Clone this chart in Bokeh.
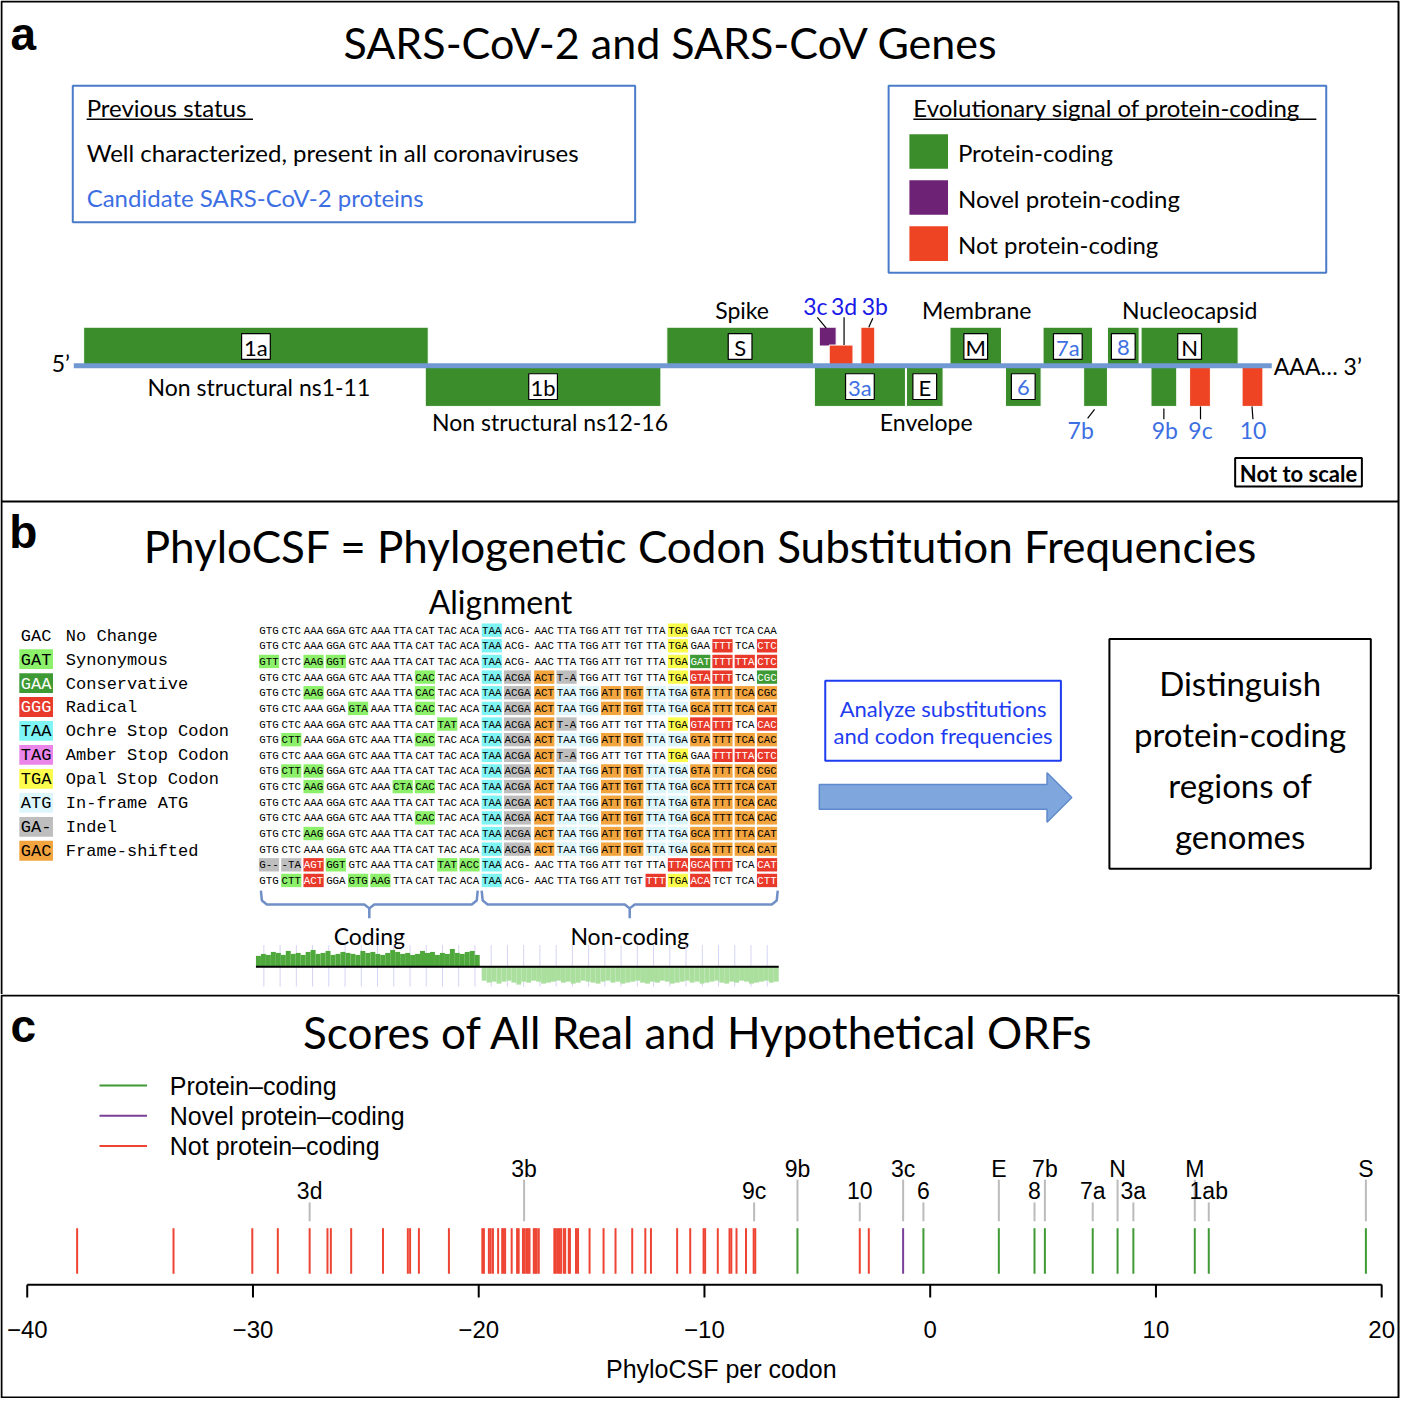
from bokeh.plotting import figure
from bokeh.models import Range1d
from bokeh.layouts import column
from bokeh.embed import file_html
from bokeh.resources import INLINE
from bokeh.core.properties import value

# ======================= DATA =======================
TITLE_A = "SARS-CoV-2 and SARS-CoV Genes"
TITLE_B = "PhyloCSF = Phylogenetic Codon Substitution Frequencies"
TITLE_C = "Scores of All Real and Hypothetical ORFs"

# panel a : evolutionary-signal classes
signal_classes = ["Protein-coding", "Novel protein-coding", "Not protein-coding"]
signal_colors = ["#3B8C2A", "#6E2275", "#EE4423"]

# panel a : genome map (diagram units along the genome, not to scale)
gene_names  = ["1a", "1b", "S", "3c", "3d", "3b", "3a", "E", "M", "6", "7a", "7b", "8", "N", "9b", "9c", "10"]
gene_start  = [85, 430, 674, 828, 838, 870, 823, 916, 960, 1016, 1054, 1095, 1119, 1153, 1163, 1202, 1255]
gene_end    = [433, 668, 822, 845, 862, 884, 915, 953, 1012, 1052, 1104, 1119, 1151, 1251, 1189, 1223, 1276]
gene_level  = ["up", "down", "up", "up_hi", "up_lo", "up", "down", "down", "up", "down", "up", "down", "up", "up", "down", "down", "down"]
gene_class  = [0, 0, 0, 1, 2, 2, 0, 0, 0, 0, 0, 0, 0, 0, 0, 2, 2]
gene_boxed  = [1, 1, 1, 0, 0, 0, 1, 1, 1, 1, 1, 0, 1, 1, 0, 0, 0]
gene_candidate = [0, 0, 0, 1, 1, 1, 1, 0, 0, 1, 1, 1, 1, 0, 1, 1, 1]

# panel b : alignment legend
legend_codons = ["GAC", "GAT", "GAA", "GGG", "TAA", "TAG", "TGA", "ATG", "GA-", "GAC"]
legend_marks = [".", "s", "c", "r", "o", "a", "p", "m", "i", "f"]
legend_labels = ["No Change", "Synonymous", "Conservative", "Radical", "Ochre Stop Codon",
                 "Amber Stop Codon", "Opal Stop Codon", "In-frame ATG", "Indel", "Frame-shifted"]

# panel b : alignment rows (codons) and their marks
aln_codons = [
    "GTG CTC AAA GGA GTC AAA TTA CAT TAC ACA TAA ACG- AAC TTA TGG ATT TGT TTA TGA GAA TCT TCA CAA",
    "GTG CTC AAA GGA GTC AAA TTA CAT TAC ACA TAA ACG- AAC TTA TGG ATT TGT TTA TGA GAA TTT TCA CTC",
    "GTT CTC AAG GGT GTC AAA TTA CAT TAC ACA TAA ACG- AAC TTA TGG ATT TGT TTA TGA GAT TTT TTA CTC",
    "GTG CTC AAA GGA GTC AAA TTA CAC TAC ACA TAA ACGA ACT T-A TGG ATT TGT TTA TGA GTA TTT TCA CGC",
    "GTG CTC AAG GGA GTC AAA TTA CAC TAC ACA TAA ACGA ACT TAA TGG ATT TGT TTA TGA GTA TTT TCA CGC",
    "GTG CTC AAA GGA GTA AAA TTA CAC TAC ACA TAA ACGA ACT TAA TGG ATT TGT TTA TGA GCA TTT TCA CAT",
    "GTG CTC AAA GGA GTC AAA TTA CAT TAT ACA TAA ACGA ACT T-A TGG ATT TGT TTA TGA GTA TTT TCA CAC",
    "GTG CTT AAA GGA GTC AAA TTA CAC TAC ACA TAA ACGA ACT TAA TGG ATT TGT TTA TGA GTA TTT TCA CAC",
    "GTG CTC AAA GGA GTC AAA TTA CAT TAC ACA TAA ACGA ACT T-A TGG ATT TGT TTA TGA GAA TTT TTA CTC",
    "GTG CTT AAG GGA GTC AAA TTA CAT TAC ACA TAA ACGA ACT TAA TGG ATT TGT TTA TGA GTA TTT TCA CGC",
    "GTG CTC AAG GGA GTC AAA CTA CAC TAC ACA TAA ACGA ACT TAA TGG ATT TGT TTA TGA GCA TTT TCA CAT",
    "GTG CTC AAA GGA GTC AAA TTA CAT TAC ACA TAA ACGA ACT TAA TGG ATT TGT TTA TGA GTA TTT TCA CAC",
    "GTG CTC AAA GGA GTC AAA TTA CAC TAC ACA TAA ACGA ACT TAA TGG ATT TGT TTA TGA GCA TTT TCA CAC",
    "GTG CTC AAG GGA GTC AAA TTA CAT TAC ACA TAA ACGA ACT TAA TGG ATT TGT TTA TGA GCA TTT TTA CAT",
    "GTG CTC AAA GGA GTC AAA TTA CAT TAC ACA TAA ACGA ACT TAA TGG ATT TGT TTA TGA GCA TTT TCA CAT",
    "G-- -TA AGT GGT GTC AAA TTA CAT TAT ACC TAA ACG- AAC TTA TGG ATT TGT TTA TTA GCA TTT TCA CAT",
    "GTG CTT ACT GGA GTG AAG TTA CAT TAC ACA TAA ACG- AAC TTA TGG ATT TGT TTT TGA ACA TCT TCA CTT",
]
aln_marks = [
    "..........o.......p....",
    "..........o.......p.r.r",
    "s.ss......o.......pcrrr",
    ".......s..oifi....prr.c",
    "..s....s..oifmmffmmffff",
    "....s..s..oifmmffmmffff",
    "........s.oifi....prr.r",
    ".s.....s..oifmmffmmffff",
    "..........oifi....p.rrr",
    ".ss.......oifmmffmmffff",
    "..s...ss..oifmmffmmffff",
    "..........oifmmffmmffff",
    ".......s..oifmmffmmffff",
    "..s.......oifmmffmmffff",
    "..........oifmmffmmffff",
    "iirs....sso.......rrr.r",
    ".sr.ss....o......rpr..r",
]

# panel b : per-position PhyloCSF track (estimated heights)
coding_track = [11, 13, 12, 15, 14, 12, 16, 13, 14, 12, 15, 17, 13, 14, 16, 12, 13, 15, 14, 13, 12, 16,
                14, 15, 13, 12, 14, 17, 15, 13, 14, 12, 13, 16, 14, 15, 12, 14, 13, 18, 14, 13, 15, 16, 12]
noncoding_track = [14, 16, 15, 17, 15, 14, 16, 18, 15, 16, 14, 15, 17, 16, 15, 14, 16, 15, 17, 16,
                   14, 15, 16, 17, 15, 14, 16, 15, 17, 16, 15, 14, 16, 17, 15, 16, 14, 15, 17, 16,
                   15, 14, 16, 15, 17, 16, 15, 14, 16, 17, 15, 16, 14, 15, 17, 16, 15, 14, 16, 15]

# panel c : PhyloCSF per codon of all ORFs
not_coding_scores = [-37.79, -33.52, -30.03, -28.90, -27.49, -26.70, -26.55, -25.65, -24.24, -23.14,
                     -23.04, -22.65, -21.32, -19.84, -19.77, -19.55, -19.47, -19.37, -19.14, -18.96,
                     -18.89, -18.83, -18.54, -18.30, -18.23, -18.04, -17.97, -17.89, -17.82, -17.75,
                     -17.56, -17.50, -17.43, -17.34, -16.65, -16.58, -16.49, -16.42, -16.35, -16.23,
                     -16.17, -16.01, -15.96, -15.69, -15.60, -15.09, -14.47, -13.94, -13.20, -12.62,
                     -12.37, -11.21, -10.63, -10.04, -9.97, -9.41, -8.89, -8.81, -8.58, -8.16,
                     -7.82, -7.75, -3.12, -2.72]
novel_coding_scores = [-1.20]
protein_coding_scores = [-5.88, -0.30, 3.04, 4.62, 5.08, 7.20, 8.30, 9.00, 11.72, 12.34, 19.30]
orf_labels = ["3d", "3b", "9c", "9b", "10", "3c", "6", "E", "8", "7b", "7a", "N", "3a", "M", "1ab", "S"]
orf_label_scores = [-27.49, -17.99, -7.80, -5.88, -3.12, -1.20, -0.30, 3.04, 4.62, 5.08, 7.20, 8.30, 9.00, 11.72, 12.34, 19.30]
orf_label_tier = [1, 0, 1, 0, 1, 0, 1, 0, 1, 0, 1, 0, 1, 0, 1, 0]
axis_ticks = [-40, -30, -20, -10, 0, 10, 20]
axis_tick_labels = ["\u221240", "\u221230", "\u221220", "\u221210", "0", "10", "20"]
AXIS_TITLE = "PhyloCSF per codon"
c_legend = ["Protein\u2013coding", "Novel protein\u2013coding", "Not protein\u2013coding"]
c_colors = ["#3F9A35", "#7B3F98", "#EE4433"]

# ======================= STYLE =======================
CAL = "Lato"
SANS = "Liberation Sans"
MONO = "Liberation Mono"
BOXBLUE = "#4A7BC8"
CANDBLUE = "#3D6FE3"
DEEPBLUE = "#1A1AE8"
mark_colors = {".": None, "s": "#8CF06A", "c": "#3E9A34", "r": "#E8392B", "o": "#7FF4F4",
               "a": "#EA85EA", "p": "#FCFC4C", "m": "#DDF6FC", "i": "#BEBEBE", "f": "#F2A43E"}


def txt(p, x, y, s, size, font=CAL, color="black", align="center", style="normal"):
    p.text(x=[x], y=[y], text=[s], text_font=value(font), text_font_size=size,
           text_color=color, text_align=align, text_baseline="middle", text_font_style=style)


# ======================= PANELS A + B =======================
pA = figure(width=1400, height=994, x_range=Range1d(1, 1415), y_range=Range1d(1005, 1),
            x_axis_type=None, y_axis_type=None, toolbar_location=None, output_backend="svg",
            min_border=0, outline_line_color=None)
pA.grid.visible = False

pA.line(x=[2, 2, 1413, 1413], y=[1005, 2, 2, 1005], line_color="black", line_width=2)
pA.segment(x0=[2], y0=[507], x1=[1413], y1=[507], line_color="black", line_width=2)

# ---- panel a ----
txt(pA, 24, 35, "a", "46px", font=SANS, style="bold")
txt(pA, 678, 43, TITLE_A, "43px")

pA.quad(left=[74], right=[642], top=[87], bottom=[225], fill_color=None, line_color=BOXBLUE, line_width=2)
txt(pA, 88, 109, "Previous status", "24px", align="left")
pA.segment(x0=[88], y0=[121], x1=[256], y1=[121], line_color="black", line_width=1.5)
txt(pA, 88, 155, "Well characterized, present in all coronaviruses", "24px", align="left")
txt(pA, 88, 200, "Candidate SARS-CoV-2 proteins", "24px", align="left", color=CANDBLUE)

pA.quad(left=[898], right=[1340], top=[87], bottom=[276], fill_color=None, line_color=BOXBLUE, line_width=2)
txt(pA, 923, 109, "Evolutionary signal of protein-coding", "24px", align="left")
pA.segment(x0=[923], y0=[121], x1=[1330], y1=[121], line_color="black", line_width=1.5)
for k, (nm, col) in enumerate(zip(signal_classes, signal_colors)):
    yc = 153.5 + 46.5 * k
    pA.quad(left=[919], right=[958], top=[yc - 17.5], bottom=[yc + 17.5], fill_color=col, line_color=None)
    txt(pA, 968, yc + 1, nm, "24px", align="left")

level_y = {"up": (331, 370), "down": (371, 411), "up_hi": (331, 350), "up_lo": (349, 371)}
gtop = [level_y[l][0] for l in gene_level]
gbot = [level_y[l][1] for l in gene_level]
gcol = [signal_colors[c] for c in gene_class]
pA.quad(left=gene_start, right=gene_end, top=gtop, bottom=gbot, fill_color=gcol,
        line_color="white", line_width=1)
pA.segment(x0=[75], y0=[370], x1=[1285], y1=[370], line_color="#7099D3", line_width=5)

# boxed gene labels
bx, by, bw, bt, bc = [], [], [], [], []
for n, s0, s1, lv, bxd, cand in zip(gene_names, gene_start, gene_end, gene_level, gene_boxed, gene_candidate):
    if bxd:
        bx.append((s0 + s1) / 2)
        by.append(350.5 if lv == "up" else 391)
        bw.append(19 + 5 * len(n))
        bt.append(n)
        bc.append(CANDBLUE if cand else "black")
pA.rect(x=bx, y=by, width=bw, height=26, fill_color="white", line_color="black", line_width=1.2)
pA.text(x=bx, y=[v + 1 for v in by], text=bt, text_color=bc, text_font=value(CAL),
        text_font_size="22px", text_align="center", text_baseline="middle")

# unboxed (small ORF) labels with leader lines
lead = {"3c": (824, 310, 826, 321, 835, 332), "3d": (853, 310, 853, 321, 853, 349),
        "3b": (884, 310, 882, 322, 878, 331), "7b": (1092, 435, 1099, 423, 1106, 414),
        "9b": (1177, 435, 1176, 424, 1176, 413), "9c": (1213, 435, 1213, 424, 1213, 411),
        "10": (1266, 435, 1266, 424, 1265, 411)}
for n, bxd in zip(gene_names, gene_boxed):
    if not bxd:
        lx, ly, x0, y0, x1, y1 = lead[n]
        txt(pA, lx, ly, n, "23px", color=DEEPBLUE if ly < 370 else CANDBLUE)
        pA.segment(x0=[x0], y0=[y0], x1=[x1], y1=[y1], line_color="black", line_width=1.2)

for s, x, y in [("Non structural ns1-11", 262, 391), ("Non structural ns12-16", 556, 427),
                ("Spike", 750, 314), ("Envelope", 936, 427), ("Membrane", 987, 314),
                ("Nucleocapsid", 1202, 314)]:
    txt(pA, x, y, s, "23px")
txt(pA, 62, 367, "5\u2019", "23px")
txt(pA, 1287, 370, "AAA\u2026  3\u2019", "23px", align="left")

pA.quad(left=[1248], right=[1376], top=[463], bottom=[492], fill_color=None, line_color="black", line_width=2)
txt(pA, 1312, 479, "Not to scale", "22px", style="bold")

# ---- panel b ----
txt(pA, 24, 538, "b", "46px", font=SANS, style="bold")
txt(pA, 708, 552, TITLE_B, "44px")
txt(pA, 506, 608, "Alignment", "32px")

# legend
for k, (cd, mk, lb) in enumerate(zip(legend_codons, legend_marks, legend_labels)):
    yc = 642 + 24.2 * k
    if mark_colors[mk]:
        pA.quad(left=[20], right=[54], top=[yc - 10], bottom=[yc + 10], fill_color=mark_colors[mk], line_color=None)
    txt(pA, 37, yc + 1, cd, "17px", font=MONO, color="white" if mk in "cr" else "black")
    txt(pA, 67, yc + 1, lb, "17px", font=MONO, align="left")

# alignment
cx_, cy_, cw_, ct_, cc_, tc_ = [], [], [], [], [], []
for r, (row, marks) in enumerate(zip(aln_codons, aln_marks)):
    yc = 637 + 15.8 * r
    for i, (cod, mk) in enumerate(zip(row.split(), marks)):
        if i < 11:
            x0 = 262 + 22.5 * i
        elif i == 11:
            x0 = 509.5
        else:
            x0 = 540 + 22.5 * (i - 12)
        w = 6.8 * len(cod)
        cx_.append(x0 + w / 2)
        cy_.append(yc)
        cw_.append(w)
        ct_.append(cod)
        cc_.append(mark_colors[mk] if mark_colors[mk] else "rgba(0,0,0,0)")
        tc_.append("white" if mk in "cr" else "black")
pA.rect(x=cx_, y=cy_, width=cw_, height=13.5, fill_color=cc_, line_color=None)
pA.text(x=cx_, y=[v + 0.5 for v in cy_], text=ct_, text_color=tc_, text_font=value(MONO),
        text_font_size="10.8px", text_align="center", text_baseline="middle")

# braces
for (a0, a1), lab in zip([(264, 483), (487, 786)], ["Coding", "Non-coding"]):
    m = (a0 + a1) / 2
    pA.multi_line(xs=[[a0, a0 + 1, a0 + 6, m - 5, m, m], [m, m + 5, a1 - 6, a1 - 1, a1]],
                  ys=[[900, 910, 914, 914, 918, 928], [918, 914, 914, 910, 900]],
                  line_color="#6F8FC6", line_width=2.5)
    txt(pA, m, 946, lab, "23px")

# PhyloCSF track
grid_x = [267 + 16.4 * k for k in range(32)]
pA.segment(x0=grid_x, y0=[955] * len(grid_x), x1=grid_x, y1=[997] * len(grid_x),
           line_color="#D4D4F4", line_width=1)
wc = (485 - 259) / len(coding_track)
pA.quad(left=[259 + wc * i for i in range(len(coding_track))],
        right=[259 + wc * (i + 1) for i in range(len(coding_track))],
        top=[977 - h for h in coding_track], bottom=[977] * len(coding_track),
        fill_color="#4EA83C", line_color=None)
wn = (787 - 487) / len(noncoding_track)
pA.quad(left=[487 + wn * i for i in range(len(noncoding_track))],
        right=[487 + wn * (i + 1) for i in range(len(noncoding_track))],
        top=[977] * len(noncoding_track), bottom=[977 + h for h in noncoding_track],
        fill_color="#AADF9E", line_color=None)
pA.segment(x0=[259], y0=[977], x1=[787], y1=[977], line_color="black", line_width=2)

# analysis box, arrow and result box
pA.quad(left=[834], right=[1072], top=[688], bottom=[769], fill_color=None, line_color="#1E3CF0", line_width=2)
txt(pA, 953, 716, "Analyze substitutions", "22px", color="#1E3CF0")
txt(pA, 953, 743, "and codon frequencies", "22px", color="#1E3CF0")
pA.patch(x=[828, 1058, 1058, 1083, 1058, 1058, 828], y=[793, 793, 781, 806, 831, 818, 818],
         fill_color="#7FA7DE", line_color="#5F8ACB", line_width=1.5)
pA.quad(left=[1121], right=[1385], top=[646], bottom=[878], fill_color=None, line_color="black", line_width=2)
for k, s in enumerate(["Distinguish", "protein-coding", "regions of", "genomes"]):
    txt(pA, 1253, 690 + 51.7 * k, s, "33px")

# ======================= PANEL C =======================
def R(px):
    # layout helper: reference pixel column -> PhyloCSF units
    return (px - 940.0) / 22.8


pC = figure(width=1400, height=404, x_range=Range1d(R(1), R(1415)), y_range=Range1d(1412, 1004),
            x_axis_type=None, y_axis_type=None, toolbar_location=None, output_backend="svg",
            min_border=0, outline_line_color=None)
pC.grid.visible = False

pC.quad(left=[R(2)], right=[R(1413)], top=[1005], bottom=[1411], fill_color=None,
        line_color="black", line_width=2)

txt(pC, R(24), 1036, "c", "46px", font=SANS, style="bold")
txt(pC, R(706), 1042, TITLE_C, "44px")

for k, (lb, col) in enumerate(zip(c_legend, c_colors)):
    yc = 1096 + 30.5 * k
    pC.segment(x0=[R(101)], y0=[yc], x1=[R(149)], y1=[yc], line_color=col, line_width=2)
    txt(pC, R(172), yc, lb, "25px", font=SANS, align="left")

for scores, col in [(not_coding_scores, c_colors[2]), (protein_coding_scores, c_colors[0]),
                    (novel_coding_scores, c_colors[1])]:
    pC.segment(x0=scores, y0=[1240] * len(scores), x1=scores, y1=[1286] * len(scores),
               line_color=col, line_width=2)

tier_text_y = [1180, 1202]
tier_line_top = [1191, 1214]
pC.segment(x0=orf_label_scores, y0=[tier_line_top[t] for t in orf_label_tier],
           x1=orf_label_scores, y1=[1233] * len(orf_label_scores), line_color="#BBBBBB", line_width=2)
pC.text(x=orf_label_scores, y=[tier_text_y[t] for t in orf_label_tier], text=orf_labels,
        text_font=value(SANS), text_font_size="23px", text_align="center", text_baseline="middle")

# x axis (R style: line spans first to last tick, ticks pointing down)
AXIS_Y = 1297
pC.segment(x0=[axis_ticks[0]], y0=[AXIS_Y], x1=[axis_ticks[-1]], y1=[AXIS_Y], line_color="black", line_width=2)
pC.segment(x0=axis_ticks, y0=[AXIS_Y] * len(axis_ticks), x1=axis_ticks, y1=[AXIS_Y + 13] * len(axis_ticks),
           line_color="black", line_width=2)
pC.text(x=axis_ticks, y=[1342] * len(axis_ticks), text=axis_tick_labels, text_font=value(SANS),
        text_font_size="24px", text_align="center", text_baseline="middle", text_color="black")
txt(pC, R(729), 1382, AXIS_TITLE, "25px", font=SANS)

layout = column(pA, pC)
open("out.html", "w").write(file_html(layout, INLINE))
